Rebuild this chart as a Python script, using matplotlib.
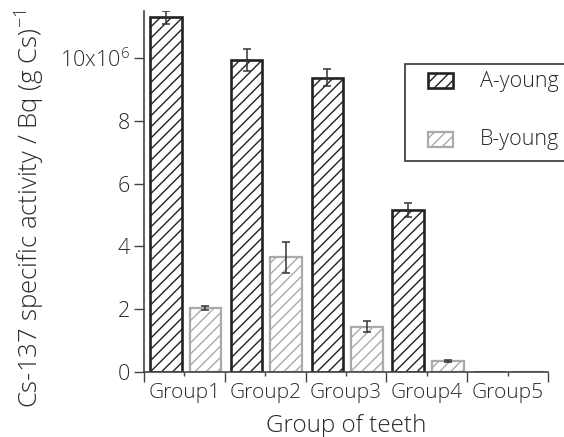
import matplotlib
matplotlib.use("Agg")
import matplotlib.pyplot as plt
import numpy as np
from matplotlib.patches import Rectangle

plt.rcParams['font.family'] = ['Open Sans', 'DejaVu Sans']
plt.rcParams['font.weight'] = 'light'
plt.rcParams['mathtext.default'] = 'regular'
plt.rcParams['hatch.linewidth'] = 1.0
plt.rcParams['text.color'] = '#2a2a2a'
plt.rcParams['axes.labelcolor'] = '#2a2a2a'
plt.rcParams['axes.labelweight'] = 'light'
plt.rcParams['xtick.color'] = '#444444'
plt.rcParams['ytick.color'] = '#444444'
plt.rcParams['xtick.labelcolor'] = '#2a2a2a'
plt.rcParams['ytick.labelcolor'] = '#2a2a2a'

groups = ["Group1", "Group2", "Group3", "Group4", "Group5"]
a_young = [11.3, 9.95, 9.37, 5.16, 0.0]
a_err = [0.2, 0.35, 0.27, 0.22, 0.0]
b_young = [2.03, 3.65, 1.44, 0.35, 0.0]
b_err = [0.06, 0.5, 0.17, 0.03, 0.0]
yticks = [0, 2, 4, 6, 8, 10]
ytick_labels = ["0", "2", "4", "6", "8", "10x10$^{6}$"]
series_names = ["A-young", "B-young"]

W, H = 564, 437
fig = plt.figure(figsize=(W / 100, H / 100), dpi=100)
ax = fig.add_axes([144 / W, 1 - 372 / H, (548 - 144) / W, (372 - 11) / H])

x = np.arange(len(groups))
width = 0.39
xa = x + 0.27
xb = x + 0.76

dark = '#222222'
grey = '#aaaaaa'
hatch = '///'

ax.bar(xa, a_young, width, color='white', edgecolor=dark, linewidth=1.9, hatch=hatch)
ax.bar(xb, b_young, width, color='white', edgecolor=grey, linewidth=1.6, hatch=hatch)

a = np.array(a_young); b = np.array(b_young)
ma = a > 0; mb = b > 0
ax.errorbar(xa[ma], a[ma], yerr=np.array(a_err)[ma], fmt='none',
            ecolor='#333333', elinewidth=1.1, capsize=3, capthick=1.1)
ax.errorbar(xb[mb], b[mb], yerr=np.array(b_err)[mb], fmt='none',
            ecolor='#333333', elinewidth=1.1, capsize=3, capthick=1.1)

ax.set_xlim(0, len(groups))
ax.set_ylim(0, 11.5)

for s in ['top', 'right']:
    ax.spines[s].set_visible(False)
for s in ['left', 'bottom']:
    ax.spines[s].set_color('#444444')
    ax.spines[s].set_linewidth(1.2)

ax.set_yticks(yticks)
ax.set_yticklabels(ytick_labels, fontsize=15.5)
ax.tick_params(axis='y', length=7, width=1, pad=3)

ax.set_xticks(np.arange(len(groups) + 1))
ax.set_xticklabels([])
ax.set_xticks(x + 0.5, minor=True)
ax.set_xticklabels(groups, minor=True, fontsize=15)
ax.tick_params(axis='x', which='major', length=7, width=1)
ax.tick_params(axis='x', which='minor', length=3, width=1, pad=5)

ax.set_xlabel("Group of teeth", fontsize=17.5, labelpad=8)
ax.set_ylabel("Cs-137 specific activity / Bq (g Cs)$^{-1}$", fontsize=18.5)
ax.yaxis.set_label_coords((47 - 144) / 404, (372 - 209) / 361)

# Legend drawn on a pixel-coordinate overlay
ov = fig.add_axes([0, 0, 1, 1], zorder=5)
ov.set_xlim(0, W)
ov.set_ylim(H, 0)
ov.axis('off')
ov.add_patch(Rectangle((405, 64), 200, 97, facecolor='white', edgecolor='#333333',
                       linewidth=1.2, clip_on=False))
ov.add_patch(Rectangle((428, 73), 25, 15, facecolor='white', edgecolor=dark,
                       linewidth=1.9, hatch=hatch))
ov.add_patch(Rectangle((428, 132), 25, 15, facecolor='white', edgecolor=grey,
                       linewidth=1.6, hatch=hatch))
ov.text(480, 81, series_names[0], fontsize=15.5, va='center', ha='left')
ov.text(480, 140, series_names[1], fontsize=15.5, va='center', ha='left')

fig.savefig("out.png", dpi=100)
